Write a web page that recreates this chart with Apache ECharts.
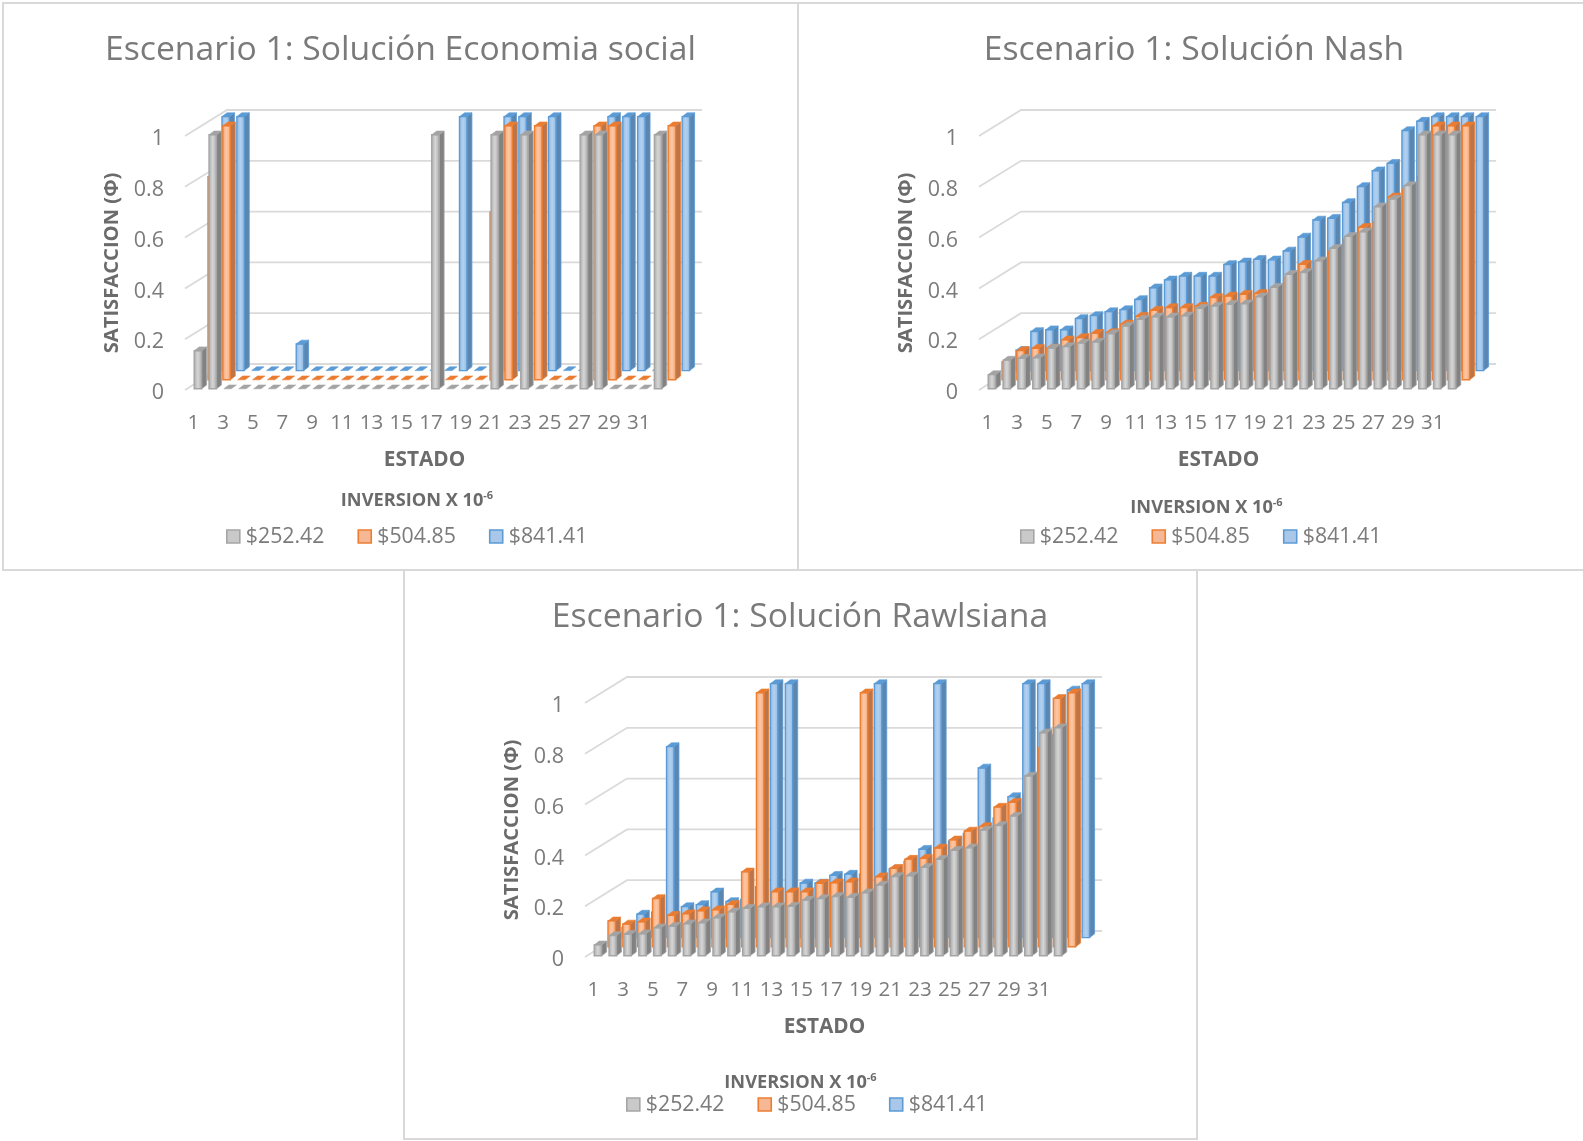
<!DOCTYPE html>
<html><head><meta charset="utf-8">
<style>html,body{margin:0;padding:0;background:#fff}#c{width:1583px;height:1141px}</style>
<script src="https://cdn.jsdelivr.net/npm/echarts@6/dist/echarts.min.js"></script>
</head><body><div id="c"></div>
<script>
const estados = Array.from({length:32},(_,i)=>String(i+1));
const yTicks = [0,0.2,0.4,0.6,0.8,1];
const serieNames = ['$252.42','$504.85','$841.41'];

const economiaGray   = [.15,1,0,0,0,0,0,0,0,0,0,0,0,0,0,0,1,0,0,0,1,0,1,0,0,0,1,1,0,0,0,1];
const economiaOrange = [.8,1,0,0,0,0,0,0,0,0,0,0,0,0,0,0,0,0,0,.66,1,0,1,0,0,0,1,1,0,0,0,1];
const economiaBlue   = [1,1,0,0,0,.105,0,0,0,0,0,0,0,0,0,0,1,0,0,1,1,0,1,0,0,0,1,1,1,0,0,1];

const nashGray   = [.056,.113,.12,.122,.16,.166,.18,.184,.217,.247,.274,.283,.283,.287,.317,.326,.333,.335,.362,.40,.451,.458,.504,.553,.60,.618,.717,.747,.80,1,1,1];
const nashOrange = [.07,.115,.124,.125,.157,.166,.183,.186,.22,.25,.274,.284,.284,.29,.324,.33,.337,.34,.355,.40,.455,.46,.505,.555,.60,.62,.72,.75,.80,1,1,1];
const nashBlue   = [.08,.154,.161,.161,.205,.217,.232,.24,.28,.326,.357,.372,.372,.372,.418,.428,.438,.436,.471,.526,.593,.60,.662,.725,.787,.816,.945,.982,1,1,1,1];

const rawlsGray   = [.043,.08,.085,.087,.11,.116,.126,.13,.15,.173,.187,.193,.193,.195,.219,.225,.233,.23,.248,.279,.312,.315,.348,.38,.415,.425,.495,.513,.55,.708,.878,.898];
const rawlsOrange = [.102,.09,.098,.19,.124,.13,.142,.146,.167,.295,1,.217,.217,.217,.25,.252,.256,1,.276,.309,.345,.348,.389,.421,.456,.473,.55,.569,.6,.784,.978,1];
const rawlsBlue   = [.04,.0925,.1,.752,.122,.13,.18,.142,.15,.2,1,1,.215,.215,.245,.25,.25,1,.27,.3,.348,1,.38,.41,.668,.47,.555,1,1,.8,.975,1];

const FONT='"Open Sans"';
const styles=[
 {face:['#a8a8a8','#d6d6d6','#a8a8a8'],line:'#a5a5a5',side:'#828282',top:'#a3a3a3',legend:'#c9c9c9'},
 {face:['#f7a673','#fcc7a4','#f7a673'],line:'#ed7d31',side:'#b9754c',top:'#e97c32',legend:'#f6b794'},
 {face:['#8fb9e4','#b3d1ef','#8fb9e4'],line:'#5b9bd5',side:'#5b86b0',top:'#5b9bd5',legend:'#a9c7e8'}
];
const rows=[{dx:9.2,dy:-1.2},{dx:23.0,dy:-10.2},{dx:37.0,dy:-19.4}];
const wallDx=42, wallDy=-26, sideDx=5, sideDy=3.8, faceW=.5;

function barRender(row){
  const st=styles[row], off=rows[row];
  return function(params,api){
    const i=api.value(0), v=api.value(1);
    const band=api.size([1,0])[0];
    const p0=api.coord([i,0]), p1=api.coord([i,v]);
    const x=p0[0]-band/2+off.dx, w=band*faceW;
    const yb=p0[1]+off.dy, yt=p1[1]+off.dy;
    const kids=[];
    if(v>0){
      kids.push({type:'polygon',shape:{points:[[x+w,yt],[x+w+sideDx,yt-sideDy],[x+w+sideDx,yb-sideDy],[x+w,yb]]},style:{fill:st.side,stroke:st.line,lineWidth:.8}});
      kids.push({type:'rect',shape:{x:x,y:yt,width:w,height:yb-yt},style:{
        fill:{type:'linear',x:0,y:0,x2:1,y2:0,colorStops:[{offset:0,color:st.face[0]},{offset:.5,color:st.face[1]},{offset:1,color:st.face[2]}]},
        stroke:st.line,lineWidth:1.4}});
    }
    kids.push({type:'polygon',shape:{points:[[x,yt],[x+w,yt],[x+w+sideDx,yt-sideDy],[x+sideDx,yt-sideDy]]},style:{fill:st.top,stroke:st.line,lineWidth:.6}});
    return {type:'group',children:kids};
  };
}
function wallRender(params,api){
  const v=api.value(1);
  const band=api.size([1,0])[0];
  const a=api.coord([0,v]), b=api.coord([estados.length-1,v]);
  const x0=a[0]-band/2, x1=b[0]+band/2;
  return {type:'polyline',shape:{points:[[x0,a[1]],[x0+wallDx,a[1]+wallDy],[x1+wallDx,a[1]+wallDy]]},
    style:{fill:null,stroke:'#dadada',lineWidth:1.8}};
}
const toPts=arr=>arr.map((v,i)=>[i,v]);

const panels=[
 {title:'Escenario 1: Solución Economia social',tx:395.5,ty:45,left:185,top:136,lt:[412,496],lg:[221,521],frame:[3,3,795,567],data:[economiaGray,economiaOrange,economiaBlue]},
 {title:'Escenario 1: Solución Nash',tx:1189,ty:45,left:979,top:136,lt:[1201.5,503],lg:[1015,521],frame:[798,3,790,567],data:[nashGray,nashOrange,nashBlue]},
 {title:'Escenario 1: Solución Rawlsiana',tx:795,ty:612.5,left:585,top:703,lt:[795.5,1078],lg:[621,1089],frame:[404,570,793,569],data:[rawlsGray,rawlsOrange,rawlsBlue]}
];

const option={animation:false,backgroundColor:'#fff',title:[],grid:[],xAxis:[],yAxis:[],legend:[],series:[],graphic:[]};
panels.forEach((p,k)=>{
  option.graphic.push({type:'rect',z:-1,shape:{x:p.frame[0],y:p.frame[1],width:p.frame[2],height:p.frame[3]},style:{fill:'#fff',stroke:'#d9d9d9',lineWidth:2}});
  option.title.push({text:p.title,left:p.tx,top:p.ty,textAlign:'center',textVerticalAlign:'middle',textStyle:{fontFamily:FONT,fontSize:33.7,fontWeight:'normal',color:'#7a7a7a'}});
  option.title.push({text:'{a|INVERSION X 10}{b|-6}',left:p.lt[0],top:p.lt[1],textAlign:'center',textVerticalAlign:'middle',
    textStyle:{rich:{a:{fontFamily:FONT,fontSize:18.2,fontWeight:'bold',color:'#6b6b6b',lineHeight:22},b:{fontFamily:FONT,fontSize:11,fontWeight:'bold',color:'#6b6b6b',verticalAlign:'top',lineHeight:22}}}});
  option.grid.push({left:p.left,top:p.top,width:475,height:254});
  option.xAxis.push({type:'category',gridIndex:k,data:estados,name:'ESTADO',nameLocation:'middle',nameGap:60,
    nameTextStyle:{fontFamily:FONT,fontSize:20.8,fontWeight:'bold',color:'#6b6b6b',padding:[0,0,0,4]},
    axisLine:{show:false},axisTick:{show:false},splitLine:{show:false},
    axisLabel:{interval:1,margin:22.5,fontFamily:FONT,fontSize:20.5,color:'#7b7b7b',hideOverlap:false,padding:[0,0,0,2]}});
  option.yAxis.push({type:'value',gridIndex:k,min:0,max:1,interval:.2,name:'SATISFACCION (Φ)',nameLocation:'middle',nameGap:63,
    nameTextStyle:{fontFamily:FONT,fontSize:20.2,fontWeight:'bold',color:'#6b6b6b'},
    axisLine:{show:false},axisTick:{show:false},splitLine:{show:false},
    axisLabel:{margin:21,fontFamily:FONT,fontSize:21.5,color:'#7b7b7b',verticalAlign:'top',lineHeight:6,formatter:v=>String(+v.toFixed(1))}});
  option.legend.push({left:p.lg[0],top:p.lg[1],orient:'horizontal',selectedMode:false,icon:'rect',itemWidth:13,itemHeight:13,itemGap:33,
    textStyle:{fontFamily:FONT,fontSize:21.3,color:'#7b7b7b',padding:[0,0,0,1]},
    data:serieNames.map((n,j)=>({name:n,itemStyle:{color:styles[j].legend,borderColor:styles[j].line,borderWidth:1.6}}))});
  option.series.push({type:'custom',name:'pared'+k,xAxisIndex:k,yAxisIndex:k,z:1,silent:true,renderItem:wallRender,encode:{x:0,y:1},data:yTicks.map(v=>[0,v])});
  [2,1,0].forEach(j=>{
    option.series.push({type:'custom',name:serieNames[j],xAxisIndex:k,yAxisIndex:k,z:2+(2-j),silent:true,clip:false,
      itemStyle:{color:styles[j].legend,borderColor:styles[j].line,borderWidth:1.6},
      renderItem:barRender(j),encode:{x:0,y:1},data:toPts(p.data[j])});
  });
});
echarts.init(document.getElementById('c'),null,{renderer:'canvas'}).setOption(option);
</script></body></html>
